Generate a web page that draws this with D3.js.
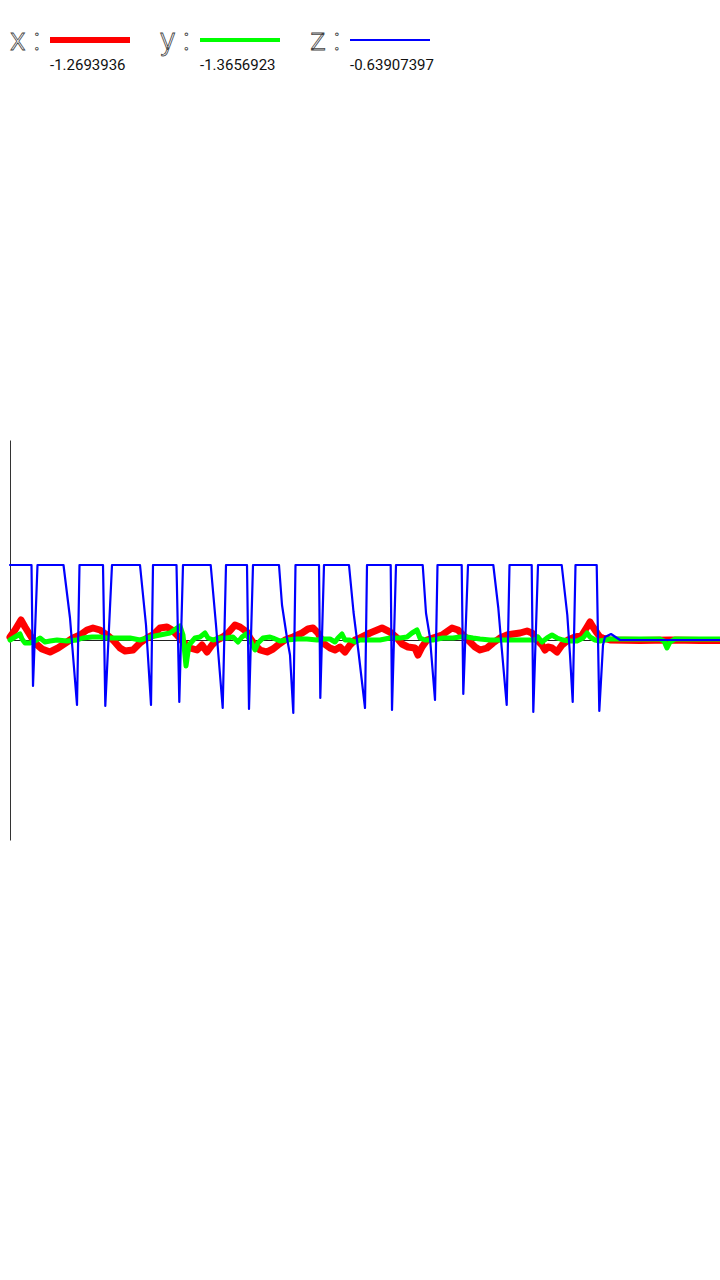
<!DOCTYPE html>
<html>
<head>
<meta charset="utf-8">
<script src="https://cdn.jsdelivr.net/npm/d3@7"></script>
<style>
  html, body { margin: 0; padding: 0; background: #fff; }
  svg { display: block; }
</style>
</head>
<body>
<svg id="chart" width="720" height="1280"></svg>
<script>
// Series names and current readings shown in the legend
const seriesNames = ["x", "y", "z"];
const seriesReadings = ["-1.2693936", "-1.3656923", "-0.63907397"];
const seriesColors = ["#ff0000", "#00ff00", "#0000ff"];

// x series: [time, value]
const xSeries = [
  [0,0.3],[0.5,1.0],[1.1,2.0],[1.5,1.3],[2.0,0.5],[2.5,-0.3],[3.2,-0.9],[4.0,-1.2],[4.8,-0.8],
  [5.7,-0.2],[6.3,0.2],[7.0,0.5],[7.7,1.0],[8.3,1.2],[9.0,1.0],[9.7,0.5],[10.3,0],[11.0,-0.8],
  [11.5,-1.1],[12.3,-1.0],[13.0,-0.3],[13.7,0.2],[14.3,0.5],[15.0,1.2],[15.7,1.3],[16.2,1.0],
  [16.7,0.5],[17.3,-0.2],[18.0,-0.8],[18.7,-1.0],[19.2,-0.5],[19.7,-1.2],[20.2,-0.5],[20.7,0],
  [21.3,0.3],[21.8,0.7],[22.5,1.5],[23.0,1.3],[23.7,0.8],[24.0,0.2],[24.5,-0.5],[25.0,-1.0],
  [25.7,-1.2],[26.3,-0.9],[26.8,-0.5],[27.5,0],[28.3,0.3],[29.2,0.7],[29.8,1.1],[30.3,1.2],
  [30.8,0.7],[31.3,-0.3],[32.0,-0.8],[32.5,-1.0],[33.0,-0.7],[33.5,-1.2],[34.0,-0.5],[34.5,0],
  [35.0,0.2],[36.0,0.7],[37.2,1.2],[38.0,0.8],[38.7,0.2],[39.2,-0.4],[39.8,-0.7],[40.5,-0.8],
  [40.8,-1.5],[41.2,-0.7],[41.7,0],[42.3,0.2],[43.2,0.5],[44.2,1.2],[44.8,1.0],[45.3,0.5],
  [46.0,-0.2],[46.5,-0.7],[47.0,-1.0],[47.7,-0.8],[48.3,-0.3],[49.0,0.2],[49.7,0.5],[50.3,0.6],
  [51.0,0.7],[51.7,0.9],[52.2,0.7],[52.7,0],[53.2,-0.5],[53.5,-1.0],[53.8,-0.7],[54.2,-0.8],
  [54.7,-1.2],[55.2,-0.5],[55.8,0],[56.5,0.3],[57.2,0.5],[57.7,1.3],[58.0,1.8],[58.3,1.3],
  [58.7,0.7],[59.0,0.3],[59.3,0.2],[60.0,0],[63.0,-0.05],[66.0,0],[69.0,-0.05],[71.0,-0.05]
];

// y series: [time, value]
const ySeries = [
  [0,0],[0.5,0.3],[1.0,0.6],[1.2,0.1],[1.5,-0.3],[2.0,-0.3],[2.7,0],[3.0,0.2],[3.5,-0.2],
  [4.0,-0.1],[4.7,0],[5.7,-0.1],[6.7,0],[7.3,0.2],[8.2,0.3],[9.0,0.3],[9.7,0.2],[11.0,0.2],
  [12.0,0.2],[13.0,0],[14.0,0.3],[15.0,0.5],[16.0,0.7],[16.7,1.2],[17.0,1.4],[17.3,0.5],
  [17.6,-2.6],[17.9,-0.5],[18.5,0.2],[19.0,0.3],[19.5,0.7],[19.8,0.2],[20.3,0],[21.0,0.2],
  [21.7,0.2],[22.3,0.3],[22.8,-0.2],[23.2,0.3],[23.6,0.6],[24.0,0],[24.5,-1.0],[24.8,-0.3],
  [25.3,0.2],[26.0,0.3],[26.3,0.2],[27.0,-0.1],[27.7,0],[28.7,0.1],[29.7,0.1],[30.7,0],
  [31.3,0.1],[32.0,0.1],[32.5,-0.2],[32.8,0.2],[33.2,0.6],[33.5,0],[34.0,0],[34.5,-0.2],
  [35.0,0],[36.0,0],[37.0,0],[38.0,0.2],[39.0,0.2],[39.7,0.3],[40.2,0.7],[40.7,1.0],[41.0,0.2],
  [41.5,0],[42.3,0],[43.3,0.2],[44.3,0.2],[45.0,0.3],[45.7,0.3],[46.3,0.2],[47.0,0.1],
  [48.0,0],[49.0,0],[50.3,0],[51.7,0],[52.5,0],[52.8,0.3],[53.2,-0.2],[53.7,0.2],[54.2,0.5],
  [54.7,0.2],[55.3,0],[56.0,-0.1],[56.7,-0.1],[57.3,0.2],[57.7,0.7],[58.0,0.3],[58.5,0],
  [59.0,-0.1],[60.0,0.1],[62.0,0.1],[65.0,0.1],[65.4,-0.1],[65.7,-0.8],[66.0,-0.2],[66.5,0.1],
  [69.0,0.1],[71.0,0.1]
];

// z series: [time, value]
const zSeries = [
  [0,7.5],[2.15,7.5],[2.3,-4.6],[2.75,7.5],[5.35,7.5],[6.0,2.2],[6.7,-6.5],[6.95,7.5],
  [9.3,7.5],[9.53,-6.6],[10.2,7.5],[13.0,7.5],[13.6,1.5],[14.1,-6.5],[14.3,7.5],
  [16.65,7.5],[16.93,-6.2],[17.3,7.5],[20.07,7.5],[20.6,1.5],[21.27,-6.8],[21.6,7.5],
  [23.7,7.5],[23.9,-6.9],[24.3,7.5],[26.9,7.5],[27.2,3.5],[27.7,0.2],[28.0,-1.5],[28.33,-7.3],
  [28.55,7.5],[30.9,7.5],[31.03,-5.8],[31.4,7.5],[33.9,7.5],[34.35,2.8],[34.85,-1.2],
  [35.5,-6.8],[35.7,7.5],[38.07,7.5],[38.2,-7.0],[38.6,7.5],[41.27,7.5],[41.6,2.7],[42.0,0.2],
  [42.5,-6.0],[42.75,7.5],[45.17,7.5],[45.33,-5.4],[45.8,7.5],[48.33,7.5],[48.83,3.2],
  [49.17,-0.8],[49.67,-6.5],[49.95,7.5],[52.17,7.5],[52.33,-7.2],[52.8,7.5],[55.17,7.5],
  [55.73,2.5],[56.0,-1.5],[56.27,-6.2],[56.55,7.5],[58.67,7.5],[58.93,-7.1],[59.3,-0.5],
  [59.5,0.3],[60.1,0.6],[61.0,0],[71.0,0]
];

const timeDomain = [0, 71];
const valueDomain = [-20, 20];

const svg = d3.select("#chart");

const defs = svg.append("defs");
defs.append("filter").attr("id", "soft")
  .attr("x", "-5%").attr("y", "-50%").attr("width", "110%").attr("height", "200%")
  .append("feGaussianBlur").attr("stdDeviation", 0.5);

const x = d3.scaleLinear().domain(timeDomain).range([10, 720]);
const y = d3.scaleLinear().domain(valueDomain).range([840, 440]);

// Axes (no ticks, just the axis lines)
svg.append("g")
  .attr("transform", `translate(${x(0)},0)`)
  .call(d3.axisLeft(y).tickValues([]).tickSize(0).tickSizeOuter(0))
  .call(g => g.select(".domain").attr("stroke", "#333").attr("stroke-width", 1));

svg.append("g")
  .attr("transform", `translate(0,${y(0)})`)
  .call(d3.axisBottom(x).tickValues([]).tickSize(0).tickSizeOuter(0))
  .call(g => g.select(".domain").attr("stroke", "#222").attr("stroke-width", 1));

const line = d3.line().x(d => x(d[0])).y(d => y(d[1]));

const allSeries = [xSeries, ySeries, zSeries];
const widths = [7, 5, 2.2];
const filters = ["url(#soft)", "url(#soft)", null];

allSeries.forEach((s, i) => {
  svg.append("path")
    .datum(s)
    .attr("fill", "none")
    .attr("stroke", seriesColors[i])
    .attr("stroke-width", widths[i])
    .attr("stroke-linejoin", "round")
    .attr("stroke-linecap", "round")
    .attr("filter", filters[i])
    .attr("d", line);
});

// Legend
const legendX = d3.scalePoint().domain(seriesNames).range([10, 310]);
const legendWidths = [6, 4, 2];
seriesNames.forEach((name, i) => {
  const lx = legendX(name);
  const g = svg.append("g").attr("transform", `translate(${lx},0)`);
  g.append("text")
    .attr("x", 0).attr("y", 50)
    .attr("font-family", "Roboto, sans-serif")
    .attr("font-size", 32)
    .attr("font-weight", 300)
    .attr("fill", "#fff")
    .attr("stroke", "#444")
    .attr("stroke-width", 0.8)
    .text(name + " :");
  g.append("line")
    .attr("x1", 40).attr("x2", 120)
    .attr("y1", 40).attr("y2", 40)
    .attr("stroke", seriesColors[i])
    .attr("stroke-width", legendWidths[i]);
  g.append("text")
    .attr("x", 40).attr("y", 70)
    .attr("font-family", "Roboto, sans-serif")
    .attr("font-size", 15)
    .attr("fill", "#111")
    .text(seriesReadings[i]);
});
</script>
</body>
</html>
